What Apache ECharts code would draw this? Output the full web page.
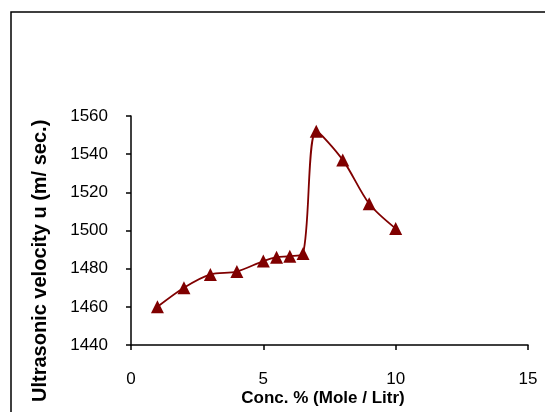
<!DOCTYPE html>
<html>
<head>
<meta charset="utf-8">
<script src="https://cdn.jsdelivr.net/npm/echarts@6/dist/echarts.min.js"></script>
<style>
  html, body { margin: 0; padding: 0; background: #fff; }
  #main { width: 545px; height: 412px; }
</style>
</head>
<body>
<div id="main"></div>
<script>
// concentration (Mole / Litr) and ultrasonic velocity (m/sec)
var conc = [1, 2, 3, 4, 5, 5.5, 6, 6.5, 7, 8, 9, 10];
var velocity = [1460, 1470, 1477, 1478.5, 1484, 1486, 1486.5, 1488, 1552, 1537, 1514, 1501];

var xTitle = "Conc. % (Mole / Litr)";
var yTitle = "Ultrasonic velocity u (m/ sec.)";

var points = conc.map(function (c, i) { return [c, velocity[i]]; });

var myChart = echarts.init(document.getElementById("main"));

myChart.setOption({
  animation: false,
  textStyle: { fontFamily: "Liberation Sans, Arial, sans-serif" },
  grid: { left: 131, right: 17, top: 116, bottom: 67 },
  xAxis: {
    type: "value",
    min: 0,
    max: 15,
    interval: 5,
    axisLine: { lineStyle: { color: "#000", width: 1.5 } },
    axisTick: { show: true, length: 5, lineStyle: { color: "#000", width: 1.5 } },
    axisLabel: { color: "#000", fontSize: 17, margin: 26 },
    splitLine: { show: false },
  },
  yAxis: {
    type: "value",
    min: 1440,
    max: 1560,
    interval: 20,
    axisLine: { show: true, lineStyle: { color: "#000", width: 1.5 } },
    axisTick: { show: true, length: 5, lineStyle: { color: "#000", width: 1.5 } },
    axisLabel: {
      color: "#000",
      fontSize: 17,
      margin: 23,
      formatter: function (v) { return String(v); },
    },
    splitLine: { show: false },
  },
  graphic: [
    {
      type: "rect",
      silent: true,
      shape: { x: 11, y: 12, width: 700, height: 600 },
      style: { fill: "none", stroke: "#000", lineWidth: 1.5 },
    },
    {
      type: "text",
      x: 323,
      y: 390,
      style: {
        text: xTitle,
        fill: "#000",
        align: "center",
        verticalAlign: "top",
        font: "bold 17px 'Liberation Sans', Arial, sans-serif",
      },
    },
    {
      type: "text",
      x: 30,
      y: 402,
      rotation: Math.PI / 2,
      style: {
        text: yTitle,
        fill: "#000",
        verticalAlign: "top",
        font: "bold 20px 'Liberation Sans', Arial, sans-serif",
      },
    },
  ],
  series: [
    {
      type: "line",
      data: points,
      smooth: 0.3,
      symbol: "triangle",
      symbolSize: 13,
      lineStyle: { color: "#800000", width: 1.8 },
      itemStyle: { color: "#800000" },
    },
  ],
});
</script>
</body>
</html>
